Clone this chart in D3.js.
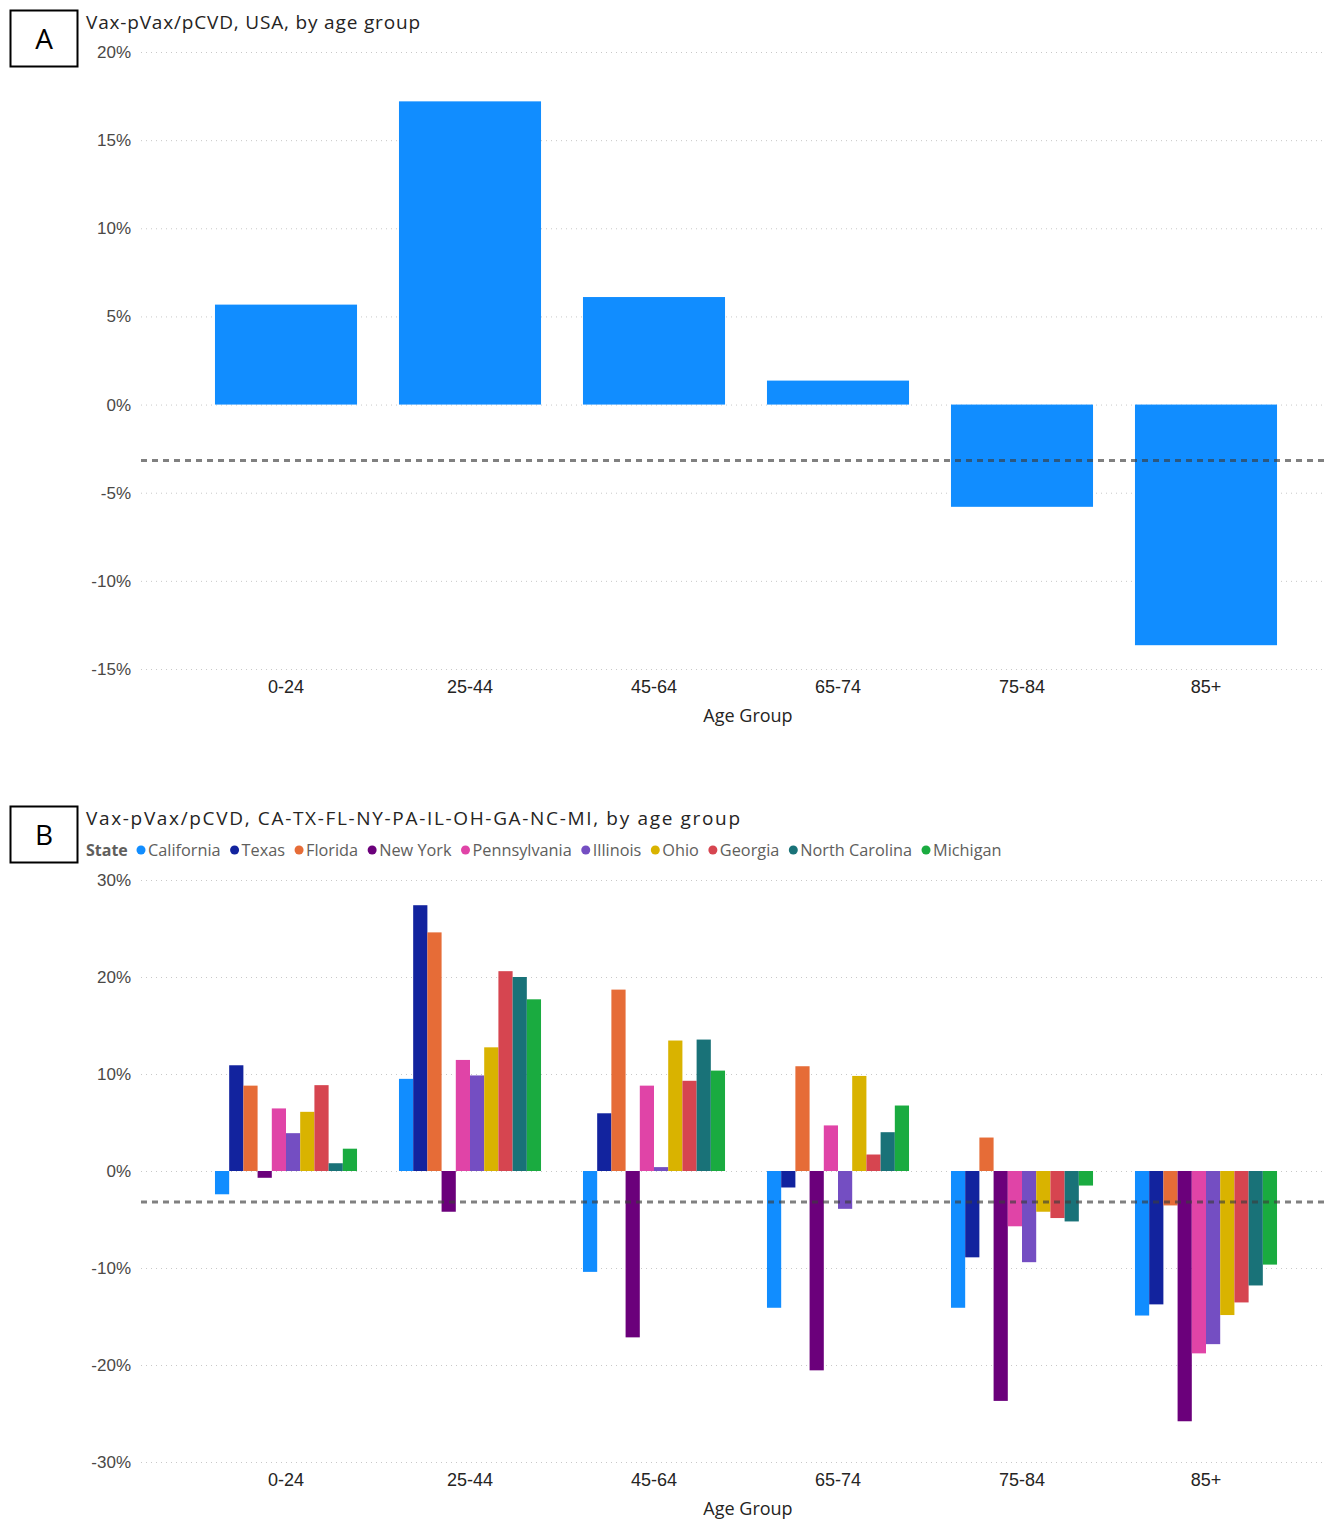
<!DOCTYPE html>
<html lang="en">
<head>
  <meta charset="UTF-8">
  <style>
    body {
      margin: 0;
      background: #fff;
      overflow: hidden;
    }

    svg {
      display: block;
      font-family: "Open Sans", "DejaVu Sans", sans-serif;
    }

    .title {
      font-size: 19px;
      fill: #252423;
    }

    .tick text {
      font-size: 17px;
      fill: #4a4846;
    }

    .grid line {
      stroke: #c8c8c8;
      stroke-dasharray: 1, 4;
    }

    .axis-title {
      font-size: 18px;
      fill: #252423;
      text-anchor: middle;
    }

    .ref-line {
      stroke: rgba(60, 60, 60, 0.65);
      stroke-width: 3;
      stroke-dasharray: 6, 5;
    }
  </style>
  <script src="https://d3js.org/d3.v7.min.js"></script>
</head>
<body>

<svg id="chart"></svg>

<script>
  // categories
  const ageGroups = ["0-24", "25-44", "45-64", "65-74", "75-84", "85+"];
  const states = ["California", "Texas", "Florida", "New York", "Pennsylvania",
    "Illinois", "Ohio", "Georgia", "North Carolina", "Michigan"];
  const stateColors = ["#118DFF", "#12239E", "#E66C37", "#6B007B", "#E044A7",
    "#744EC2", "#D9B300", "#D64550", "#197278", "#1AAB40"];

  // panel A: USA, percent
  const usaValues = [5.67, 17.2, 6.1, 1.36, -5.8, -13.65];

  // panel B: one array per state, in ageGroups order
  const californiaValues = [-2.4, 9.5, -10.4, -14.1, -14.1, -14.9];
  const texasValues = [10.9, 27.4, 5.95, -1.7, -8.9, -13.75];
  const floridaValues = [8.8, 24.6, 18.7, 10.8, 3.45, -3.55];
  const newYorkValues = [-0.7, -4.2, -17.15, -20.55, -23.7, -25.8];
  const pennsylvaniaValues = [6.45, 11.45, 8.8, 4.7, -5.7, -18.8];
  const illinoisValues = [3.9, 9.85, 0.4, -3.9, -9.4, -17.85];
  const ohioValues = [6.1, 12.75, 13.45, 9.8, -4.2, -14.85];
  const georgiaValues = [8.85, 20.6, 9.3, 1.7, -4.85, -13.55];
  const northCarolinaValues = [0.8, 20.0, 13.55, 4.0, -5.2, -11.8];
  const michiganValues = [2.3, 17.7, 10.35, 6.75, -1.5, -9.65];

  const stateValues = [californiaValues, texasValues, floridaValues, newYorkValues,
    pennsylvaniaValues, illinoisValues, ohioValues, georgiaValues,
    northCarolinaValues, michiganValues];

  // reference (dashed) lines
  const refLineA = -3.17;
  const refLineB = -3.2;

  const ticksA = [20, 15, 10, 5, 0, -5, -10, -15];
  const ticksB = [30, 20, 10, 0, -10, -20, -30];

  const W = 1325, H = 1519;
  const svg = d3.select("#chart").attr("width", W).attr("height", H);

  const gridLeft = 141, gridRight = 1325;

  const x = d3.scaleBand()
    .domain(ageGroups)
    .range([194, 1298])
    .paddingInner(0.228)
    .paddingOuter(0.114);

  function panelFrame(letter, boxY, title, titleWidth, yScale, ticks, axisY, ageTitleY) {
    svg.append("rect")
      .attr("x", 10.5).attr("y", boxY + 0.5)
      .attr("width", 67).attr("height", 56)
      .attr("fill", "none").attr("stroke", "#000").attr("stroke-width", 2);
    svg.append("text")
      .attr("x", 44).attr("y", boxY + 28)
      .attr("text-anchor", "middle").attr("dominant-baseline", "central")
      .attr("font-size", 28).attr("fill", "#000")
      .text(letter);

    svg.append("text").attr("class", "title")
      .attr("x", 86).attr("y", boxY + 19)
      .attr("textLength", titleWidth)
      .attr("lengthAdjust", "spacing")
      .text(title);

    // y axis with grid
    const yAxis = svg.append("g")
      .attr("class", "grid")
      .attr("transform", `translate(${gridLeft},0)`)
      .call(d3.axisLeft(yScale)
        .tickValues(ticks)
        .tickSize(-(gridRight - gridLeft))
        .tickPadding(10)
        .tickFormat(d => d + "%"));
    yAxis.select(".domain").remove();

    // x axis labels
    const xAxis = svg.append("g")
      .attr("transform", `translate(0,${axisY})`)
      .call(d3.axisBottom(x).tickSize(0).tickPadding(0));
    xAxis.select(".domain").remove();
    xAxis.selectAll("text")
      .attr("dy", "0.71em")
      .style("font-size", "18px")
      .style("fill", "#252423");

    svg.append("text").attr("class", "axis-title")
      .attr("x", 748).attr("y", ageTitleY)
      .text("Age Group");
  }

  // ---------- Panel A ----------
  const yA = d3.scaleLinear().domain([-15, 20]).range([669, 52]);
  panelFrame("A", 10, "Vax-pVax/pCVD, USA, by age group", 334, yA, ticksA, 680, 722);

  svg.append("g")
    .selectAll("rect")
    .data(ageGroups)
    .join("rect")
    .attr("x", d => x(d))
    .attr("width", x.bandwidth())
    .attr("y", (d, i) => yA(Math.max(0, usaValues[i])))
    .attr("height", (d, i) => Math.abs(yA(usaValues[i]) - yA(0)))
    .attr("fill", "#118DFF");

  svg.append("line").attr("class", "ref-line")
    .attr("x1", gridLeft).attr("x2", gridRight)
    .attr("y1", yA(refLineA)).attr("y2", yA(refLineA));

  // ---------- Panel B ----------
  const yB = d3.scaleLinear().domain([-30, 30]).range([1462, 880]);
  panelFrame("B", 806, "Vax-pVax/pCVD, CA-TX-FL-NY-PA-IL-OH-GA-NC-MI, by age group", 654,
    yB, ticksB, 1473, 1515);

  // legend
  const legend = svg.append("g").attr("transform", "translate(86,856)");
  legend.append("text")
    .attr("font-size", 16).attr("font-weight", "bold").attr("fill", "#605E5C")
    .text("State");
  let lx = 50;
  states.forEach((s, i) => {
    legend.append("circle")
      .attr("cx", lx + 5).attr("cy", -6).attr("r", 4.5)
      .attr("fill", stateColors[i]);
    const t = legend.append("text")
      .attr("x", lx + 12)
      .attr("font-size", 16.3).attr("fill", "#605E5C")
      .text(s);
    lx += 12 + t.node().getComputedTextLength() + 9;
  });

  const xInner = d3.scaleBand()
    .domain(states)
    .range([0, x.bandwidth()]);

  const barGroups = svg.append("g")
    .selectAll("g")
    .data(ageGroups)
    .join("g")
    .attr("transform", d => `translate(${x(d)},0)`);

  barGroups.selectAll("rect")
    .data((d, gi) => states.map((s, si) => ({ state: s, idx: si, value: stateValues[si][gi] })))
    .join("rect")
    .attr("x", d => xInner(d.state))
    .attr("width", xInner.bandwidth())
    .attr("y", d => yB(Math.max(0, d.value)))
    .attr("height", d => Math.abs(yB(d.value) - yB(0)))
    .attr("fill", d => stateColors[d.idx]);

  svg.append("line").attr("class", "ref-line")
    .attr("x1", gridLeft).attr("x2", gridRight)
    .attr("y1", yB(refLineB)).attr("y2", yB(refLineB));
</script>

</body>
</html>
